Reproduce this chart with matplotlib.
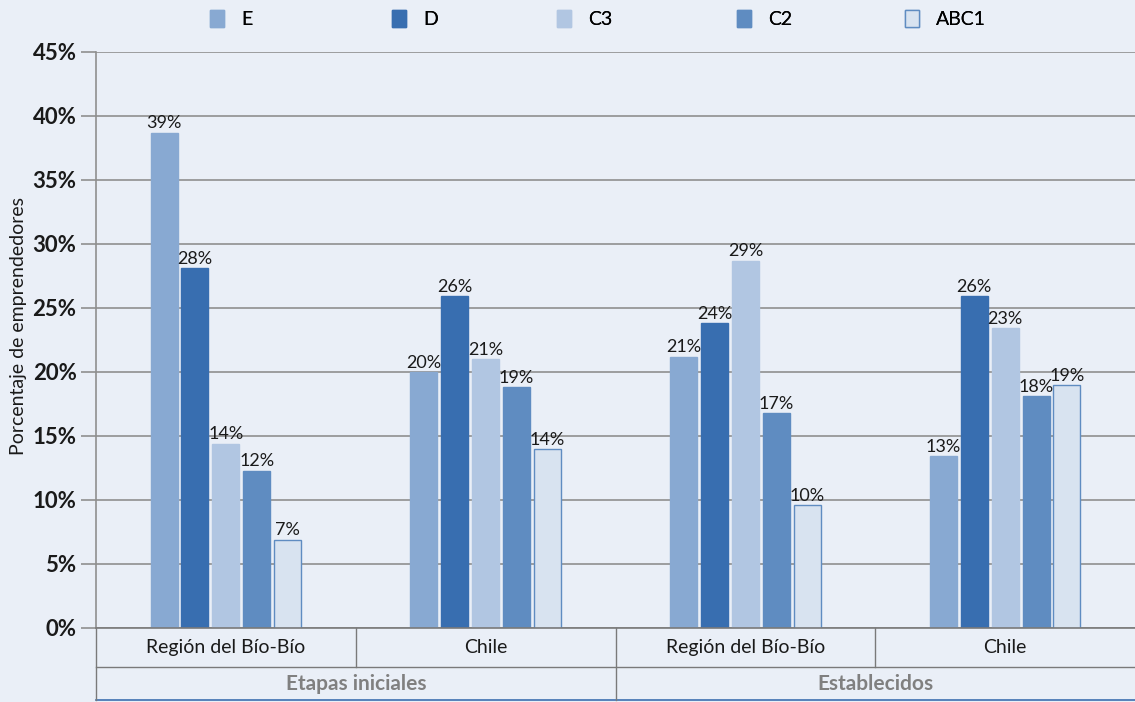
import matplotlib
matplotlib.use("Agg")
import matplotlib.pyplot as plt
import numpy as np
from matplotlib.transforms import blended_transform_factory
from matplotlib.patches import Patch

groups = ["Región del Bío-Bío", "Chile", "Región del Bío-Bío", "Chile"]
supergroups = ["Etapas iniciales", "Establecidos"]
series = ["E", "D", "C3", "C2", "ABC1"]
values = {
    "E":    [38.7, 20.0, 21.2, 13.4],
    "D":    [28.1, 25.9, 23.8, 25.9],
    "C3":   [14.4, 21.0, 28.7, 23.4],
    "C2":   [12.3, 18.8, 16.8, 18.1],
    "ABC1": [6.9, 14.0, 9.6, 19.0],
}
labels = {
    "E":    ["39%", "20%", "21%", "13%"],
    "D":    ["28%", "26%", "24%", "26%"],
    "C3":   ["14%", "21%", "29%", "23%"],
    "C2":   ["12%", "19%", "17%", "18%"],
    "ABC1": ["7%", "14%", "10%", "19%"],
}
yticks = [0, 5, 10, 15, 20, 25, 30, 35, 40, 45]

colors = {"E": "#88a9d2", "D": "#386eb0", "C3": "#b1c6e2", "C2": "#5f8cc1", "ABC1": "#d8e3f0"}
edges = {"E": "#88a9d2", "D": "#386eb0", "C3": "#b1c6e2", "C2": "#5f8cc1", "ABC1": "#5f8cc1"}
bg = "#eaeff7"

plt.rcParams['font.family'] = ['Lato', 'DejaVu Sans']

W, H = 1135, 702
fig = plt.figure(figsize=(W / 100, H / 100), dpi=100)
fig.patch.set_facecolor(bg)
L, R, T, B = 96, 1135, 52, 628
ax = fig.add_axes([L / W, (H - B) / H, (R - L) / W, (B - T) / H])
ax.set_facecolor(bg)

x = np.arange(len(groups))
step = 0.119
width = 0.104
for i, s in enumerate(series):
    xs = x + (i - 2) * step
    ax.bar(xs, values[s], width=width, color=colors[s], edgecolor=edges[s], linewidth=1, zorder=3)
    for xi, v, lab in zip(xs, values[s], labels[s]):
        ax.text(xi, v + 0.1, lab, ha="center", va="bottom", fontsize=13, color="#1a1a1a", zorder=4)

ax.set_xlim(-0.5, 3.5)
ax.set_ylim(0, 45)
ax.set_yticks(yticks)
ax.set_yticklabels([f"{t}%" for t in yticks], fontsize=16, fontweight="bold", color="#1a1a1a")
ax.yaxis.grid(True, color="#8f8f8f", linewidth=1.2, zorder=0)
ax.tick_params(axis="y", length=11, width=1.2, color="#8f8f8f", pad=3)
ax.set_xticks([])
for sp in ["top", "right", "bottom"]:
    ax.spines[sp].set_visible(False)
ax.spines["left"].set_color("#8f8f8f")
ax.spines["left"].set_linewidth(1.2)
fig.text(19 / W, 1 - 326 / H, "Porcentaje de emprendedores", rotation=90, ha="center", va="center",
         fontsize=14, color="#1a1a1a")

# category table below
tr = blended_transform_factory(ax.transData, ax.transAxes)
def ay(py):
    return (B - py) / (B - T)
y0, y1, y2 = ay(628), ay(667), ay(700)
lc = "#7a7a7a"
ax.plot([-0.5, 3.5], [y0, y0], transform=tr, color=lc, lw=1.2, clip_on=False, zorder=5)
ax.plot([-0.5, 3.5], [y1, y1], transform=tr, color=lc, lw=1.0, clip_on=False)
ax.plot([-0.5, 3.5], [y2, y2], transform=tr, color="#3c6fb0", lw=1.2, clip_on=False)
for xb in [-0.5, 1.5]:
    ax.plot([xb, xb], [y0, y2], transform=tr, color=lc, lw=1.0, clip_on=False)
for xb in [0.5, 2.5]:
    ax.plot([xb, xb], [y0, y1], transform=tr, color=lc, lw=1.0, clip_on=False)
for xi, g in zip(x, groups):
    ax.text(xi, (y0 + y1) / 2, g, transform=tr, ha="center", va="center", fontsize=14, color="#1a1a1a")
for k, sg in enumerate(supergroups):
    ax.text(2 * k + 0.5, (y1 + y2) / 2, sg, transform=tr, ha="center", va="center",
            fontsize=15, fontweight="bold", color="#808080")

# legend entries placed individually
leg_x = [210, 392, 557, 737, 905]
for s, px in zip(series, leg_x):
    h = Patch(facecolor=colors[s], edgecolor=edges[s], label=s)
    lg = fig.legend(handles=[h], loc="center left", bbox_to_anchor=(px / W, 1 - 19 / H),
                    frameon=False, fontsize=14, handlelength=0.7, handleheight=1.0,
                    handletextpad=0.9, borderpad=0, borderaxespad=0)
    fig.add_artist(lg)

fig.savefig("out.png", dpi=100, facecolor=bg)
